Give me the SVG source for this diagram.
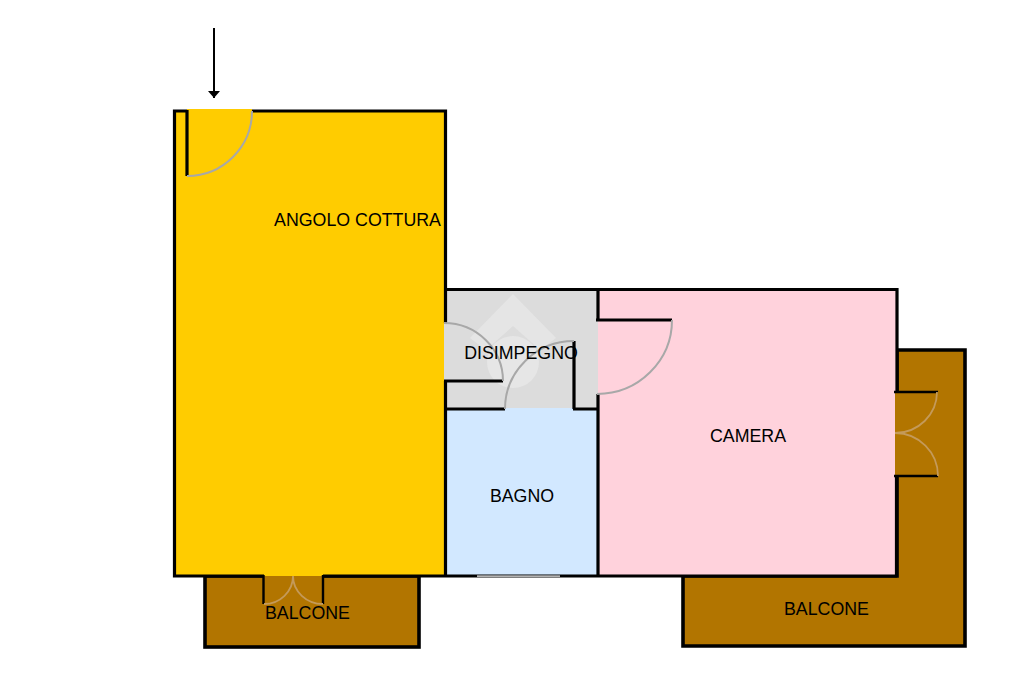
<svg xmlns="http://www.w3.org/2000/svg" width="1024" height="682" viewBox="0 0 1024 682">
<style>
.wall{fill:none;stroke:#000;stroke-width:3.2}
.thin{fill:none;stroke:#000;stroke-width:2.400}
.balc{fill:#b27500;stroke:#000;stroke-width:3.600}
.arc{fill:none;stroke:#a8a8a8;stroke-width:2}
.arcb{fill:none;stroke:#c49a5a;stroke-width:1.800}
text{font-family:"Liberation Sans",Arial,sans-serif;font-size:17.800px;fill:#000;text-anchor:middle}
</style>
<defs><marker id="ah" markerWidth="7" markerHeight="12" refX="7" refY="6" orient="auto" markerUnits="userSpaceOnUse"><path d="M0 0L7 6L0 12Z" fill="#000"/></marker></defs>
<rect width="1024" height="682" fill="#fff"/>
<g id="balcone-destro">
<path d="M897 350H965V646H683V576H897Z" class="balc"/>
</g>
<g id="balcone-sinistro">
<rect x="205" y="576" width="214" height="71" class="balc"/>
</g>
<g id="angolo-cottura">
<rect x="175" y="111" width="270" height="465" fill="#ffcc00"/>
<rect x="187" y="109" width="65" height="3" fill="#ffcc00"/>
</g>
<g id="disimpegno">
<rect x="444" y="290" width="154" height="118" fill="#dcdcdc"/>
<path d="M513 294L556 338L540 350L513 326L486 350L470 338Z" fill="#e5e5e5"/>
<circle cx="513" cy="362" r="26" fill="#e6e6e6"/>
</g>
<g id="bagno">
<rect x="446" y="408" width="152" height="168" fill="#d2e8ff"/>
</g>
<g id="camera">
<rect x="598" y="290" width="299" height="286" fill="#ffd2dc"/>
</g>
<g id="walls">
<path d="M187 111H174.500V576H264M323 576H897M252 111H445.500V323M445.500 381V576" class="wall"/>
<path d="M445 289.500H897V392M896.500 476V576M598 290V320M598 394V576" class="wall"/>
<path d="M445 409H505M573 409H598M574 341V409M444 381H503M596 320H672M187 110V176" class="wall"/>
<rect x="264" y="574" width="59" height="2" fill="#ffcc00"/>
<rect x="264" y="576" width="59" height="2" fill="#b27500"/>
<path d="M263.500 575V604M323 575V604" class="thin"/>
<rect x="477" y="575.500" width="83" height="1.200" fill="#fff"/>
<rect x="895" y="392" width="5" height="84" fill="#b27500"/>
<path d="M894 392H938M894 476H938" class="thin"/>
</g>
<g id="door-arcs">
<path d="M187 176A65 65 0 0 0 252 111" class="arc"/>
<path d="M444 323A59 58 0 0 1 503 381" class="arc"/>
<path d="M505 409A69 68 0 0 1 574 341" class="arc"/>
<path d="M597 394A75 74 0 0 0 672 320" class="arc"/>
<path d="M937 392A42 41 0 0 1 895 433A43 43 0 0 1 938 476" class="arcb"/>
<path d="M264 604A29 28 0 0 0 293 576A30 28 0 0 0 323 604" class="arcb"/>
</g>
<g id="connectors">
<path d="M214 28V98" style="fill:none;stroke:#000;stroke-width:2" marker-end="url(#ah)"/>
</g>
<g id="labels">
<text x="357.500" y="225.500">ANGOLO COTTURA</text>
<text x="522" y="502">BAGNO</text>
<text x="748" y="442">CAMERA</text>
<text x="521" y="359">DISIMPEGNO</text>
<text x="307.500" y="618.500">BALCONE</text>
<text x="826.500" y="615">BALCONE</text>
</g>
</svg>
